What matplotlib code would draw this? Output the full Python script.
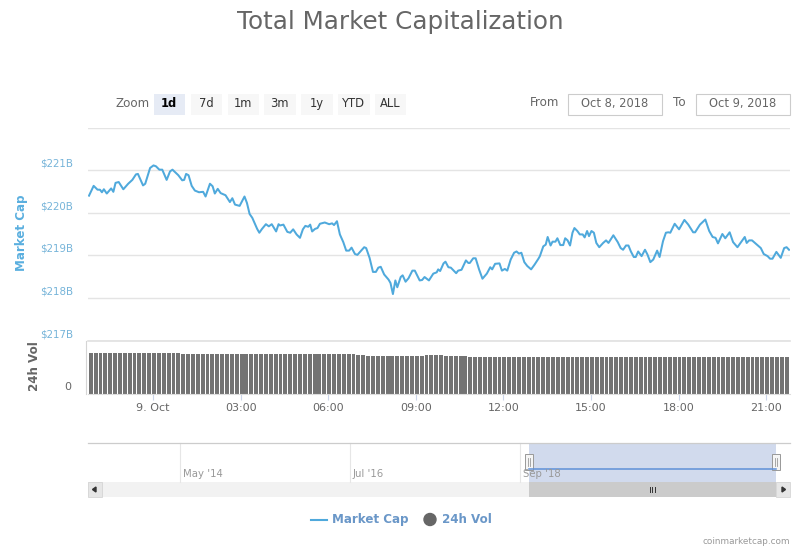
"""Total market capitalization chart, one day view with volume and navigator."""

import matplotlib

matplotlib.use("Agg")

import matplotlib.pyplot as plt
from matplotlib.patches import Circle, Polygon, Rectangle

WIDTH, HEIGHT = 800, 550

# minutes relative to midnight of 9 Oct
MINUTES = [
    -131.5, -122, -114, -109, -105, -101, -95, -86, -81.5, -77, -70.5, -61,
    -51, -42.5, -35, -31, -20.5, -16, -6, 1, 6, 13, 19, 28,
    35, 40, 52, 60, 64, 68, 73, 79.5, 86, 94.5, 103, 108,
    117, 122.5, 127, 133, 139, 149, 158, 163, 168.5, 178, 188, 193,
    198.5, 204, 214, 218.5, 224, 232, 238, 244, 253, 258,
    261, 268, 276, 282, 288, 295, 302, 308, 313, 319, 323, 327,
    333, 338, 343, 353, 362, 368, 372, 378, 384, 391, 397, 403,
    408, 415, 420, 427, 434, 438, 445, 452, 458, 463, 468, 475,
    484, 488, 493, 498, 502, 509, 513, 519, 525, 533, 538, 548,
    553, 558, 567, 576, 583, 586, 590, 597, 601, 607, 612, 623,
    627, 634, 643, 648, 651, 658, 663, 670, 677, 686, 693, 697,
    703, 712, 717, 723, 728, 735, 742, 747, 752, 757, 763, 769,
    777, 784, 792,
    795, 802, 807, 811, 817, 821, 827, 831, 837, 843, 847, 852,
    857, 862, 866, 872, 877, 883, 887, 892, 896, 901, 906, 911,
    917, 925, 931, 936, 946, 955, 961, 966, 972, 977, 982, 988,
    992, 997, 1004, 1011, 1016, 1022, 1028, 1036, 1041, 1048, 1054, 1059,
    1063, 1072, 1081, 1092, 1100, 1110, 1114, 1124, 1135, 1143, 1150, 1156,
    1161, 1170, 1176, 1185, 1192, 1201, 1216, 1220, 1225, 1231, 1240, 1249,
    1255, 1263, 1268, 1273, 1281, 1290, 1297, 1302, 1307,
]

# market cap in $B
MARKET_CAP = [
    220.40, 220.63, 220.54, 220.54, 220.48, 220.55, 220.45, 220.57, 220.49, 220.70, 220.72, 220.55,
    220.68, 220.77, 220.90, 220.91, 220.64, 220.68, 221.05, 221.11, 221.09, 221.01, 221.01, 220.77,
    220.97, 221.01, 220.88, 220.76, 220.77, 220.91, 220.88, 220.63, 220.52, 220.48, 220.49, 220.38,
    220.68, 220.62, 220.45, 220.56, 220.46, 220.41, 220.25, 220.34, 220.19, 220.16, 220.38, 220.23,
    219.97, 219.88, 219.62, 219.53, 219.62, 219.73, 219.68, 219.73, 219.56, 219.73,
    219.70, 219.72, 219.55, 219.53, 219.61, 219.49, 219.41, 219.61, 219.69, 219.67, 219.72, 219.56,
    219.62, 219.64, 219.74, 219.77, 219.73, 219.75, 219.71, 219.80, 219.49, 219.31, 219.11, 219.11,
    219.18, 219.03, 219.01, 219.10, 219.19, 219.17, 218.94, 218.61, 218.61, 218.71, 218.73, 218.55,
    218.43, 218.35, 218.09, 218.41, 218.25, 218.49, 218.53, 218.38, 218.46, 218.64, 218.64, 218.41,
    218.42, 218.49, 218.41, 218.57, 218.60, 218.67, 218.63, 218.81, 218.85, 218.72, 218.71, 218.58,
    218.64, 218.66, 218.88, 218.82, 218.82, 218.93, 218.93, 218.67, 218.45, 218.57, 218.72, 218.67,
    218.80, 218.81, 218.64, 218.68, 218.64, 218.90, 219.06, 219.09, 219.04, 219.06, 218.84, 218.75,
    218.67, 218.78, 218.92,
    218.98, 219.21, 219.25, 219.43, 219.23, 219.32, 219.32, 219.40, 219.24, 219.24, 219.40, 219.35,
    219.23, 219.53, 219.64, 219.57, 219.49, 219.49, 219.42, 219.57, 219.45, 219.57, 219.53, 219.29,
    219.19, 219.29, 219.35, 219.29, 219.47, 219.31, 219.17, 219.13, 219.23, 219.23, 219.09, 218.96,
    218.96, 219.09, 218.98, 219.13, 219.02, 218.84, 218.90, 219.11, 218.96, 219.33, 219.53, 219.54,
    219.53, 219.74, 219.61, 219.83, 219.72, 219.54, 219.54, 219.72, 219.84, 219.57, 219.43, 219.41,
    219.28, 219.50, 219.40, 219.54, 219.31, 219.19, 219.43, 219.29, 219.35, 219.35, 219.26, 219.17,
    219.03, 218.98, 218.92, 218.92, 219.08, 218.94, 219.17, 219.19, 219.13,
]

# one bar every ten minutes, volume in $B
VOLUME_START = -128
VOLUME_STEP = 10
VOLUME = [
    12.1, 12.1, 12.1, 12.1, 12.1, 12.1, 12.1, 12.1, 12.1, 12.1, 12.1, 12.1,
    12.1, 12.1, 12.1, 12.1, 12.1, 12.1, 12.1, 12.0, 11.9, 11.9, 11.9, 11.9,
    11.9, 11.9, 11.9, 11.9, 11.9, 11.9, 11.9, 11.9, 11.9, 11.9, 11.9, 11.9,
    11.9, 11.9, 11.9, 11.9, 11.9, 11.9, 11.9, 11.9, 11.9, 11.9, 11.9, 11.9,
    11.9, 11.9, 11.9, 11.9, 11.9, 11.9, 11.9, 11.7, 11.5, 11.4, 11.3, 11.3,
    11.2, 11.2, 11.2, 11.2, 11.2, 11.3, 11.3, 11.3, 11.4, 11.5, 11.5, 11.5,
    11.5, 11.4, 11.3, 11.2, 11.2, 11.2, 11.1, 11.1, 11.1, 11.1, 11.1, 11.1,
    11.1, 11.1, 11.0, 11.0, 11.0, 11.0, 11.0, 11.0, 10.9, 10.9, 10.9, 10.9,
    10.9, 10.9, 10.9, 10.9, 10.9, 10.9, 10.9, 10.9, 10.9, 10.9, 10.9, 10.9,
    10.9, 10.9, 10.9, 10.9, 10.9, 10.9, 10.9, 10.9, 10.9, 10.9, 10.9, 10.9,
    10.9, 10.9, 10.9, 10.9, 10.9, 10.9, 10.9, 10.9, 10.9, 10.9, 10.9, 10.9,
    10.9, 10.9, 10.9, 10.9, 10.9, 10.9, 10.9, 10.9, 10.9, 10.9, 10.9, 10.9,
]

PRICE_TICKS = [217, 218, 219, 220, 221, 222]
PRICE_LABELS = ["$217B", "$218B", "$219B", "$220B", "$221B", ""]
TIME_TICKS = [0, 180, 360, 540, 720, 900, 1080, 1260]
TIME_LABELS = ["9. Oct", "03:00", "06:00", "09:00", "12:00", "15:00", "18:00", "21:00"]

RANGE_BUTTONS = ["1d", "7d", "1m", "3m", "1y", "YTD", "ALL"]
BUTTON_LEFTS = [153.5, 190.5, 227.5, 264, 301, 338, 374.5]
NAV_LABELS = ["May '14", "Jul '16", "Sep '18"]
NAV_LINES = [180, 350, 520]

LINE_BLUE = "#4fa9dc"
TICK_BLUE = "#76b4d9"
LEGEND_BLUE = "#6a97c8"
GRAY_TEXT = "#666666"
BAR_GRAY = "#737373"
GRID = "#e4e4e4"


def axes_from_pixels(fig, left, top, right, bottom):
    """Add axes placed by pixel edges, measured from the top left corner."""
    return fig.add_axes([
        left / WIDTH,
        1 - bottom / HEIGHT,
        (right - left) / WIDTH,
        (bottom - top) / HEIGHT,
    ])


def draw_price(fig, xlim):
    """Market cap line with gridlines and labels sitting above them."""
    ax = axes_from_pixels(fig, 88, 127.5, 790, 340.5)
    ax.plot(MINUTES, MARKET_CAP, color=LINE_BLUE, lw=1.45, solid_joinstyle="round")
    ax.set_xlim(xlim)
    ax.set_ylim(217, 222)
    ax.set_xticks([])
    ax.set_yticks(PRICE_TICKS, [""] * len(PRICE_TICKS))
    ax.tick_params(axis="y", length=0)
    for value, label in zip(PRICE_TICKS, PRICE_LABELS):
        ax.annotate(label, xy=(0, value), xycoords=("axes fraction", "data"),
                    xytext=(-15, 6.5), textcoords="offset pixels", ha="right",
                    va="center", fontsize=7.4, color=TICK_BLUE)
    ax.grid(axis="y", color=GRID, lw=1)
    ax.set_axisbelow(True)
    for spine in ax.spines.values():
        spine.set_visible(False)
    ax.patch.set_alpha(0)


def draw_volume(fig, xlim):
    """Volume bars sharing the time axis of the line above."""
    times = [VOLUME_START + VOLUME_STEP * i for i in range(len(VOLUME))]
    ax = axes_from_pixels(fig, 88, 340.5, 790, 393.5)
    ax.bar(times, VOLUME, width=8.0, color=BAR_GRAY)
    ax.set_xlim(xlim)
    ax.set_ylim(0, 16)
    ax.set_xticks(TIME_TICKS, TIME_LABELS)
    ax.tick_params(axis="x", length=4.5, width=0.8, color="#ccd6eb", pad=2,
                   labelsize=8, labelcolor=GRAY_TEXT)
    ax.set_yticks([0], [""])
    ax.tick_params(axis="y", length=0)
    ax.annotate("0", xy=(0, 0), xycoords=("axes fraction", "data"),
                xytext=(-17, 6.5), textcoords="offset pixels", ha="right",
                va="center", fontsize=8, color=GRAY_TEXT)
    for name in ("top", "right"):
        ax.spines[name].set_visible(False)
    ax.spines["left"].set_position(("outward", 1.5))
    ax.spines["left"].set_color("#d5d5d5")
    ax.spines["bottom"].set_color("#dddddd")
    ax.patch.set_alpha(0)


def box(ax, left, top, right, bottom, face, edge="none", lw=0.8, **kwargs):
    """Rectangle given by pixel edges on the overlay."""
    ax.add_patch(Rectangle((left, top), right - left, bottom - top,
                           facecolor=face, edgecolor=edge, lw=lw, **kwargs))


def draw_toolbar(ax):
    """Range selector buttons and the date inputs."""
    ax.text(115, 103.5, "Zoom", fontsize=8.6, color=GRAY_TEXT, va="center")
    for i, (name, left) in enumerate(zip(RANGE_BUTTONS, BUTTON_LEFTS)):
        selected = i == 0
        box(ax, left, 93.5, left + 31.5, 115, "#e6ebf5" if selected else "#f7f7f7")
        ax.text(left + 15.8, 103.5, name, ha="center", va="center",
                fontsize=8.3, color="#000000" if selected else "#333333",
                fontweight="bold" if selected else "normal")
    ax.text(530, 103, "From", fontsize=8.6, color=GRAY_TEXT, va="center")
    ax.text(673, 103, "To", fontsize=8.6, color=GRAY_TEXT, va="center")
    box(ax, 567.5, 93.5, 661.5, 114.5, "white", "#cccccc")
    box(ax, 696, 93.5, 790, 114.5, "white", "#cccccc")
    ax.text(614.5, 103, "Oct 8, 2018", ha="center", va="center", fontsize=8.3, color=GRAY_TEXT)
    ax.text(743, 103, "Oct 9, 2018", ha="center", va="center", fontsize=8.3, color=GRAY_TEXT)


def draw_navigator(ax):
    """Navigator strip with the selected range and its scrollbar."""
    box(ax, 88, 482, 790, 497, "#f2f2f2")
    for x, label in zip(NAV_LINES, NAV_LABELS):
        ax.plot([x, x], [443, 482], color="#e6e6e6", lw=0.8)
        ax.text(x + 3, 474, label, fontsize=7.3, color="#999999", va="center")
    box(ax, 528.5, 443, 776, 482, "#ccd6eb", alpha=0.9)
    ax.plot([88, 790], [443, 443], color="#cccccc", lw=0.9)
    ax.plot([528.5, 776], [469, 469], color="#5f90d8", lw=1.1)
    box(ax, 528.5, 482, 776, 497, "#cbcbcb")
    for x in (649.5, 652, 654.5):
        ax.plot([x, x], [486.5, 492], color="#333333", lw=0.7)

    box(ax, 87.5, 482, 101.5, 497, "#e6e6e6", "#d0d0d0", 0.5)
    ax.add_patch(Polygon([(96, 487), (96, 492), (92.5, 489.5)], color="#333333"))
    box(ax, 776, 482, 790, 497, "#e6e6e6", "#d0d0d0", 0.5)
    ax.add_patch(Polygon([(782, 487), (782, 492), (785.5, 489.5)], color="#333333"))

    for left in (524.5, 771.5):
        box(ax, left, 454, left + 8, 469.5, "#f5f5f5", "#999999", 0.7)
        for x in (left + 3, left + 5):
            ax.plot([x, x], [458, 465.5], color="#999999", lw=0.6)


def draw_overlay(fig):
    """Title, axis titles, toolbar, navigator, legend and credit in pixel space."""
    ax = fig.add_axes([0, 0, 1, 1], zorder=5)
    ax.set_xlim(0, WIDTH)
    ax.set_ylim(HEIGHT, 0)
    ax.axis("off")

    ax.text(400, 22, "Total Market Capitalization", ha="center", va="center",
            fontsize=17.7, color=GRAY_TEXT)
    ax.text(22, 233, "Market Cap", rotation=90, ha="center", va="center",
            fontsize=8.6, fontweight="bold", color="#5aafdf")
    ax.text(34, 366, "24h Vol", rotation=90, ha="center", va="center",
            fontsize=8.6, fontweight="bold", color=GRAY_TEXT)
    # panel divider, the lowest gridline of the line chart
    ax.plot([88, 790], [340.5, 340.5], color="#e0e0e0", lw=1.2)

    draw_toolbar(ax)
    draw_navigator(ax)

    ax.plot([311, 327], [519.5, 519.5], color=LINE_BLUE, lw=1.5)
    ax.text(332, 519.5, "Market Cap", fontsize=8.6, fontweight="bold",
            color=LEGEND_BLUE, va="center")
    ax.add_patch(Circle((430, 519.5), 6, color=GRAY_TEXT))
    ax.text(442, 519.5, "24h Vol", fontsize=8.6, fontweight="bold",
            color=LEGEND_BLUE, va="center")
    ax.text(790, 541, "coinmarketcap.com", ha="right", va="center",
            fontsize=6.4, color="#999999")


def main():
    """Build the figure and save it as out.png."""
    plt.rcParams["font.family"] = ["DejaVu Sans"]
    fig = plt.figure(figsize=(WIDTH / 100, HEIGHT / 100), dpi=100)
    # pixel edges 88 and 790 converted through 9 Oct at x=153, 29.2 px per hour
    xlim = (-133.6, 1309)
    draw_volume(fig, xlim)
    draw_price(fig, xlim)
    draw_overlay(fig)
    fig.savefig("out.png", dpi=100)


if __name__ == "__main__":
    main()
